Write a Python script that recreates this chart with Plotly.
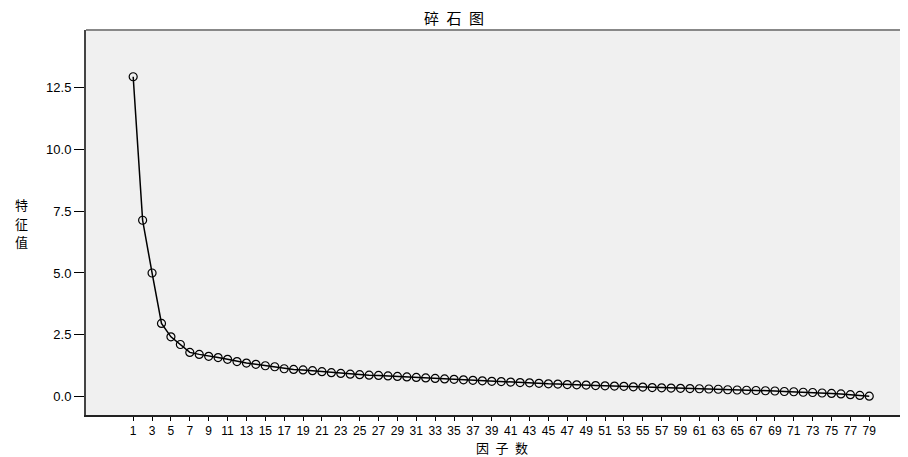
import plotly.graph_objects as go

factors = list(range(1, 80))
eigenvalues = [
    12.93, 7.13, 5.00, 2.96, 2.42, 2.11, 1.79, 1.71, 1.63, 1.58,
    1.51, 1.42, 1.36, 1.31, 1.25, 1.21, 1.13, 1.10, 1.08, 1.05,
    1.01, 0.97, 0.94, 0.91, 0.89, 0.87, 0.86, 0.84, 0.82, 0.80,
    0.78, 0.76, 0.74, 0.72, 0.70, 0.68, 0.66, 0.64, 0.62, 0.61,
    0.59, 0.57, 0.56, 0.54, 0.52, 0.51, 0.49, 0.48, 0.47, 0.45,
    0.44, 0.43, 0.42, 0.40, 0.39, 0.37, 0.36, 0.35, 0.34, 0.33,
    0.32, 0.31, 0.30, 0.28, 0.27, 0.26, 0.25, 0.24, 0.23, 0.21,
    0.20, 0.18, 0.17, 0.15, 0.13, 0.11, 0.08, 0.05, 0.02,
]
x_tick_vals = list(range(1, 80, 2))
x_tick_text = [str(v) for v in x_tick_vals]
y_tick_vals = [0.0, 2.5, 5.0, 7.5, 10.0, 12.5]
title_text = "碎\u2002石\u2002图"
x_title_text = "因\u2002子\u2002数"
y_title_chars = ["特", "征", "值"]

# page body has an 8px margin; figure is placed at (8, 8)
W, H = 900, 449
L, R, T, B = 78, 1, 22, 42
pw, ph = W - L - R, H - T - B

fig = go.Figure()
fig.add_trace(go.Scatter(
    x=factors, y=eigenvalues, mode="lines+markers",
    line=dict(color="#000000", width=1.5),
    marker=dict(symbol="circle-open", size=8, color="#000000", line=dict(width=1.2)),
    showlegend=False,
))

annotations = [
    dict(text=x_title_text, x=(502 - 86) / pw, xref="paper", y=-(447 - 415) / ph, yref="paper",
         yanchor="middle", showarrow=False, borderpad=0,
         font=dict(family="Noto Sans CJK SC", size=13, color="#000000")),
]
for i, ch in enumerate(y_title_chars):
    annotations.append(dict(
        text=ch, x=(21 - 86) / pw, xref="paper", xanchor="center",
        y=(415 - (204 + 19 * i)) / ph, yref="paper", yanchor="middle", showarrow=False,
        borderpad=0, font=dict(family="Noto Sans CJK SC", size=13, color="#000000"),
    ))

fig.update_layout(
    width=W, height=H,
    margin=dict(l=L, r=R, t=T, b=B, autoexpand=False),
    paper_bgcolor="white", plot_bgcolor="#f0f0f0",
    font=dict(family="Liberation Sans, Arial", color="#000000"),
    title=dict(text=title_text, x=(454 - 8) / W, xanchor="center", y=1 - (19 - 8) / H, yanchor="middle",
               font=dict(family="Noto Sans CJK SC", size=15, color="#000000")),
    xaxis=dict(
        range=[-4, 83], tickmode="array", tickvals=x_tick_vals, ticktext=x_tick_text,
        ticks="outside", ticklen=4, tickwidth=1, tickcolor="#000000",
        tickfont=dict(size=12, color="#000000"),
        showgrid=False, zeroline=False, showline=True, linecolor="#222222", linewidth=2,
    ),
    yaxis=dict(
        range=[-0.74, 14.82], tickmode="array", tickvals=y_tick_vals, tickformat=".1f",
        ticks="outside", ticklen=10, tickwidth=1, tickcolor="#000000",
        tickfont=dict(size=13, color="#000000"),
        showgrid=False, zeroline=False, showline=True, linecolor="#444444", linewidth=2,
    ),
    annotations=annotations,
    shapes=[
        dict(type="line", xref="paper", yref="paper", x0=0, x1=1, y0=1, y1=1,
             line=dict(color="#888888", width=2)),
    ],
)

fig.write_html("out.html")
